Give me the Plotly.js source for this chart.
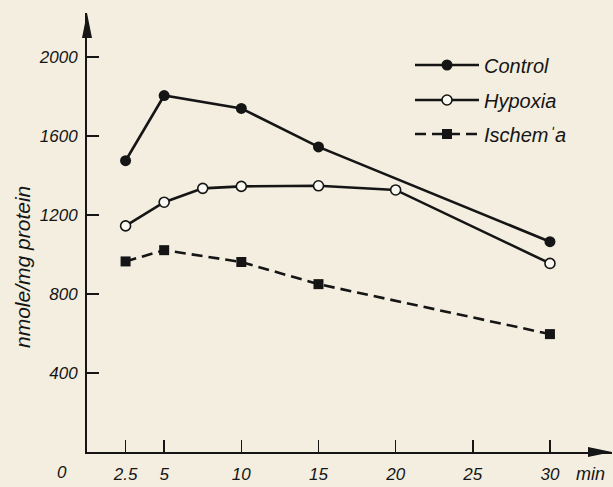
<!DOCTYPE html>
<html>
<head>
<meta charset="utf-8">
<script src="https://cdn.plot.ly/plotly-3.0.1.min.js"></script>
<style>
  html, body { margin: 0; padding: 0; background: #f3eee0; }
  #chart { width: 613px; height: 487px; }
</style>
</head>
<body>
<div id="chart"></div>
<script>
// ---- data ----
const controlMin = [2.5, 5, 10, 15, 30];
const controlVal = [1475, 1805, 1740, 1545, 1065];
const hypoxiaMin = [2.5, 5, 7.5, 10, 15, 20, 30];
const hypoxiaVal = [1145, 1265, 1335, 1345, 1348, 1327, 955];
const ischemiaMin = [2.5, 5, 10, 15, 30];
const ischemiaVal = [965, 1022, 962, 850, 597];
const xTickVals = [2.5, 5, 10, 15, 20, 25, 30];
const xTickText = ['2.5', '5', '10', '15', '20', '25', '30'];
const yTickVals = [400, 800, 1200, 1600, 2000];
const yTickText = ['400', '800', '1200', '1600', '2000'];
const seriesNames = ['Control', 'Hypoxia', 'Ischem\u02C8a'];
const yTitle = 'nmole/mg protein';
const xUnit = 'min';

// ---- layout geometry ----
const W = 613, H = 487;
const L = 87, R = 1, T = 13, B = 35;
const pw = W - L - R, ph = H - T - B;
const xMax = 34.02, yMax = 2223;
const px = p => (p - L) / pw;          // pixel x -> paper
const py = p => (H - B - p) / ph;       // pixel y -> paper

const ink = '#151515';
const bg = '#f3eee0';
const tickFnt = { family: 'Liberation Sans, Arial, sans-serif', size: 17, color: ink, style: 'italic' };
const textFnt = { family: 'Liberation Sans, Arial, sans-serif', size: 20, color: ink, style: 'italic' };

const traces = [
  { x: controlMin, y: controlVal, name: seriesNames[0], mode: 'lines+markers', legend: 'legend',
    line: { color: ink, width: 2.6 },
    marker: { symbol: 'circle', size: 11, color: ink } },
  { x: hypoxiaMin, y: hypoxiaVal, name: seriesNames[1], mode: 'lines+markers', legend: 'legend2',
    line: { color: ink, width: 2.6 },
    marker: { symbol: 'circle', size: 10, color: '#faf8f2', line: { color: ink, width: 1.6 } } },
  { x: ischemiaMin, y: ischemiaVal, name: seriesNames[2], mode: 'lines+markers', legend: 'legend3',
    line: { color: ink, width: 2.6, dash: '11px,6px' },
    marker: { symbol: 'square', size: 10, color: ink } }
];

function leg(yPix) {
  return { x: px(410), y: py(yPix), xanchor: 'left', yanchor: 'middle', bgcolor: 'rgba(0,0,0,0)',
    font: textFnt, itemwidth: 64 };
}

const layout = {
  width: W, height: H,
  margin: { l: L, r: R, t: T, b: B },
  paper_bgcolor: bg, plot_bgcolor: bg,
  font: textFnt,
  showlegend: true,
  legend: leg(65), legend2: leg(100), legend3: leg(134),
  xaxis: {
    range: [0, xMax], showgrid: false, zeroline: false,
    showline: true, linecolor: ink, linewidth: 2,
    ticks: 'inside', ticklen: 12, tickwidth: 1.5, tickcolor: ink,
    tickvals: xTickVals, ticktext: xTickText, ticklabelstandoff: 6,
    tickfont: tickFnt
  },
  yaxis: {
    range: [0, yMax], showgrid: false, zeroline: false,
    showline: true, linecolor: ink, linewidth: 2,
    ticks: 'inside', ticklen: 12, tickwidth: 1.5, tickcolor: ink,
    tickvals: yTickVals, ticktext: yTickText, ticklabelstandoff: 4,
    tickfont: tickFnt
  },
  shapes: [
    { type: 'path', xref: 'paper', yref: 'paper', fillcolor: ink, line: { width: 0 },
      path: `M ${px(87)} ${py(13)} L ${px(82)} ${py(38)} L ${px(92)} ${py(38)} Z` },
    { type: 'path', xref: 'paper', yref: 'paper', fillcolor: ink, line: { width: 0 },
      path: `M ${px(612)} ${py(452)} L ${px(588)} ${py(447)} L ${px(588)} ${py(457)} Z` }
  ],
  annotations: [
    { text: '0', xref: 'paper', yref: 'paper', x: px(62), y: py(472), showarrow: false,
      xanchor: 'center', yanchor: 'middle', font: tickFnt },
    { text: xUnit, xref: 'paper', yref: 'paper', x: px(590), y: py(474), showarrow: false,
      xanchor: 'center', yanchor: 'middle',
      font: { family: textFnt.family, size: 18, color: ink, style: 'italic' } },
    { text: yTitle, xref: 'paper', yref: 'paper', x: px(22), y: py(267), showarrow: false,
      textangle: -90, xanchor: 'center', yanchor: 'middle',
      font: { family: textFnt.family, size: 21, color: ink, style: 'italic' } }
  ]
};

Plotly.newPlot('chart', traces, layout, { displayModeBar: false, staticPlot: true });
</script>
</body>
</html>
